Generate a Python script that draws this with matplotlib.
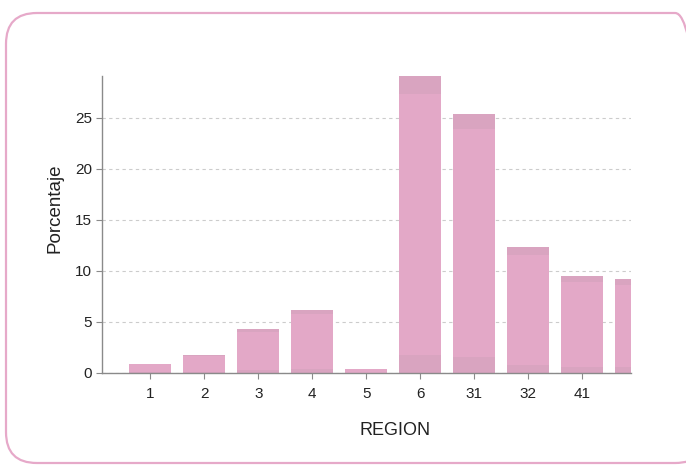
import matplotlib
matplotlib.use("Agg")
import matplotlib.pyplot as plt
import numpy as np
from matplotlib.patches import FancyBboxPatch, Rectangle

plt.rcParams['font.family'] = ['Liberation Sans', 'DejaVu Sans']

regions = ["1", "2", "3", "4", "5", "6", "31", "32", "41", "42"]
porcentaje = [0.9, 1.8, 4.3, 6.2, 0.4, 29.1, 25.4, 12.3, 9.5, 9.2]
yticks = [0, 5, 10, 15, 20, 25]

bar_color = "#e3a8c7"
band_color = "#d9a4c0"
grey = "#8a8a8a"

fig = plt.figure(figsize=(6.86, 4.68), dpi=100)

# rounded pink frame around the whole chart
frame = FancyBboxPatch((6 / 686, 5 / 468), 700 / 686, 450 / 468,
                       boxstyle="round,pad=0,rounding_size=0.045",
                       transform=fig.transFigure, facecolor="none",
                       edgecolor="#e6a9c9", linewidth=1.6, mutation_aspect=686 / 468,
                       zorder=-1)
fig.patches.append(frame)

ax = fig.add_axes([101.7 / 686, 1 - 373 / 468, (631 - 101.7) / 686, (373 - 76) / 468])
ax.set_facecolor("none")

x = np.arange(len(regions))
width = 0.78
ax.bar(x, porcentaje, width=width, color=bar_color, zorder=2)
# slightly darker bands at top and bottom of each bar
for xi, v in zip(x, porcentaje):
    band = 0.06 * v
    ax.bar(xi, band, width=width, bottom=v - band, color=band_color, zorder=2)
    ax.bar(xi, band, width=width, color=band_color, zorder=2)

ax.set_yticks(yticks)
ax.set_xticks(x)
ax.set_xticklabels(regions)
# limits after the ticks, otherwise set_xticks widens the view
ax.set_xlim(-0.9, 8.9)
ax.set_ylim(0, 29.1)

ax.yaxis.grid(True, linestyle=(0, (3, 3)), color="#cccccc", linewidth=0.8, zorder=0)
ax.set_axisbelow(True)

for side in ["top", "right"]:
    ax.spines[side].set_visible(False)
for side in ["left", "bottom"]:
    ax.spines[side].set_color(grey)
    ax.spines[side].set_linewidth(1.0)

ax.tick_params(axis="both", colors=grey, labelcolor="#222222", labelsize=11,
               length=4, width=0.8)
ax.tick_params(axis="x", pad=6)
ax.tick_params(axis="y", pad=3)

# the last tick label is cut off at the plot's right edge
fig.add_artist(Rectangle((630 / 686, 1 - 412 / 468), 50 / 686, 36 / 468,
                         transform=fig.transFigure, facecolor="white",
                         edgecolor="none", zorder=5))

ax.set_ylabel("Porcentaje", fontsize=13.5, color="#222222")
ax.yaxis.set_label_coords(-0.0726, 0.554)
ax.set_xlabel("REGION", fontsize=13, color="#222222")
ax.xaxis.set_label_coords(0.554, -0.165)

fig.savefig("out.png", dpi=100)
